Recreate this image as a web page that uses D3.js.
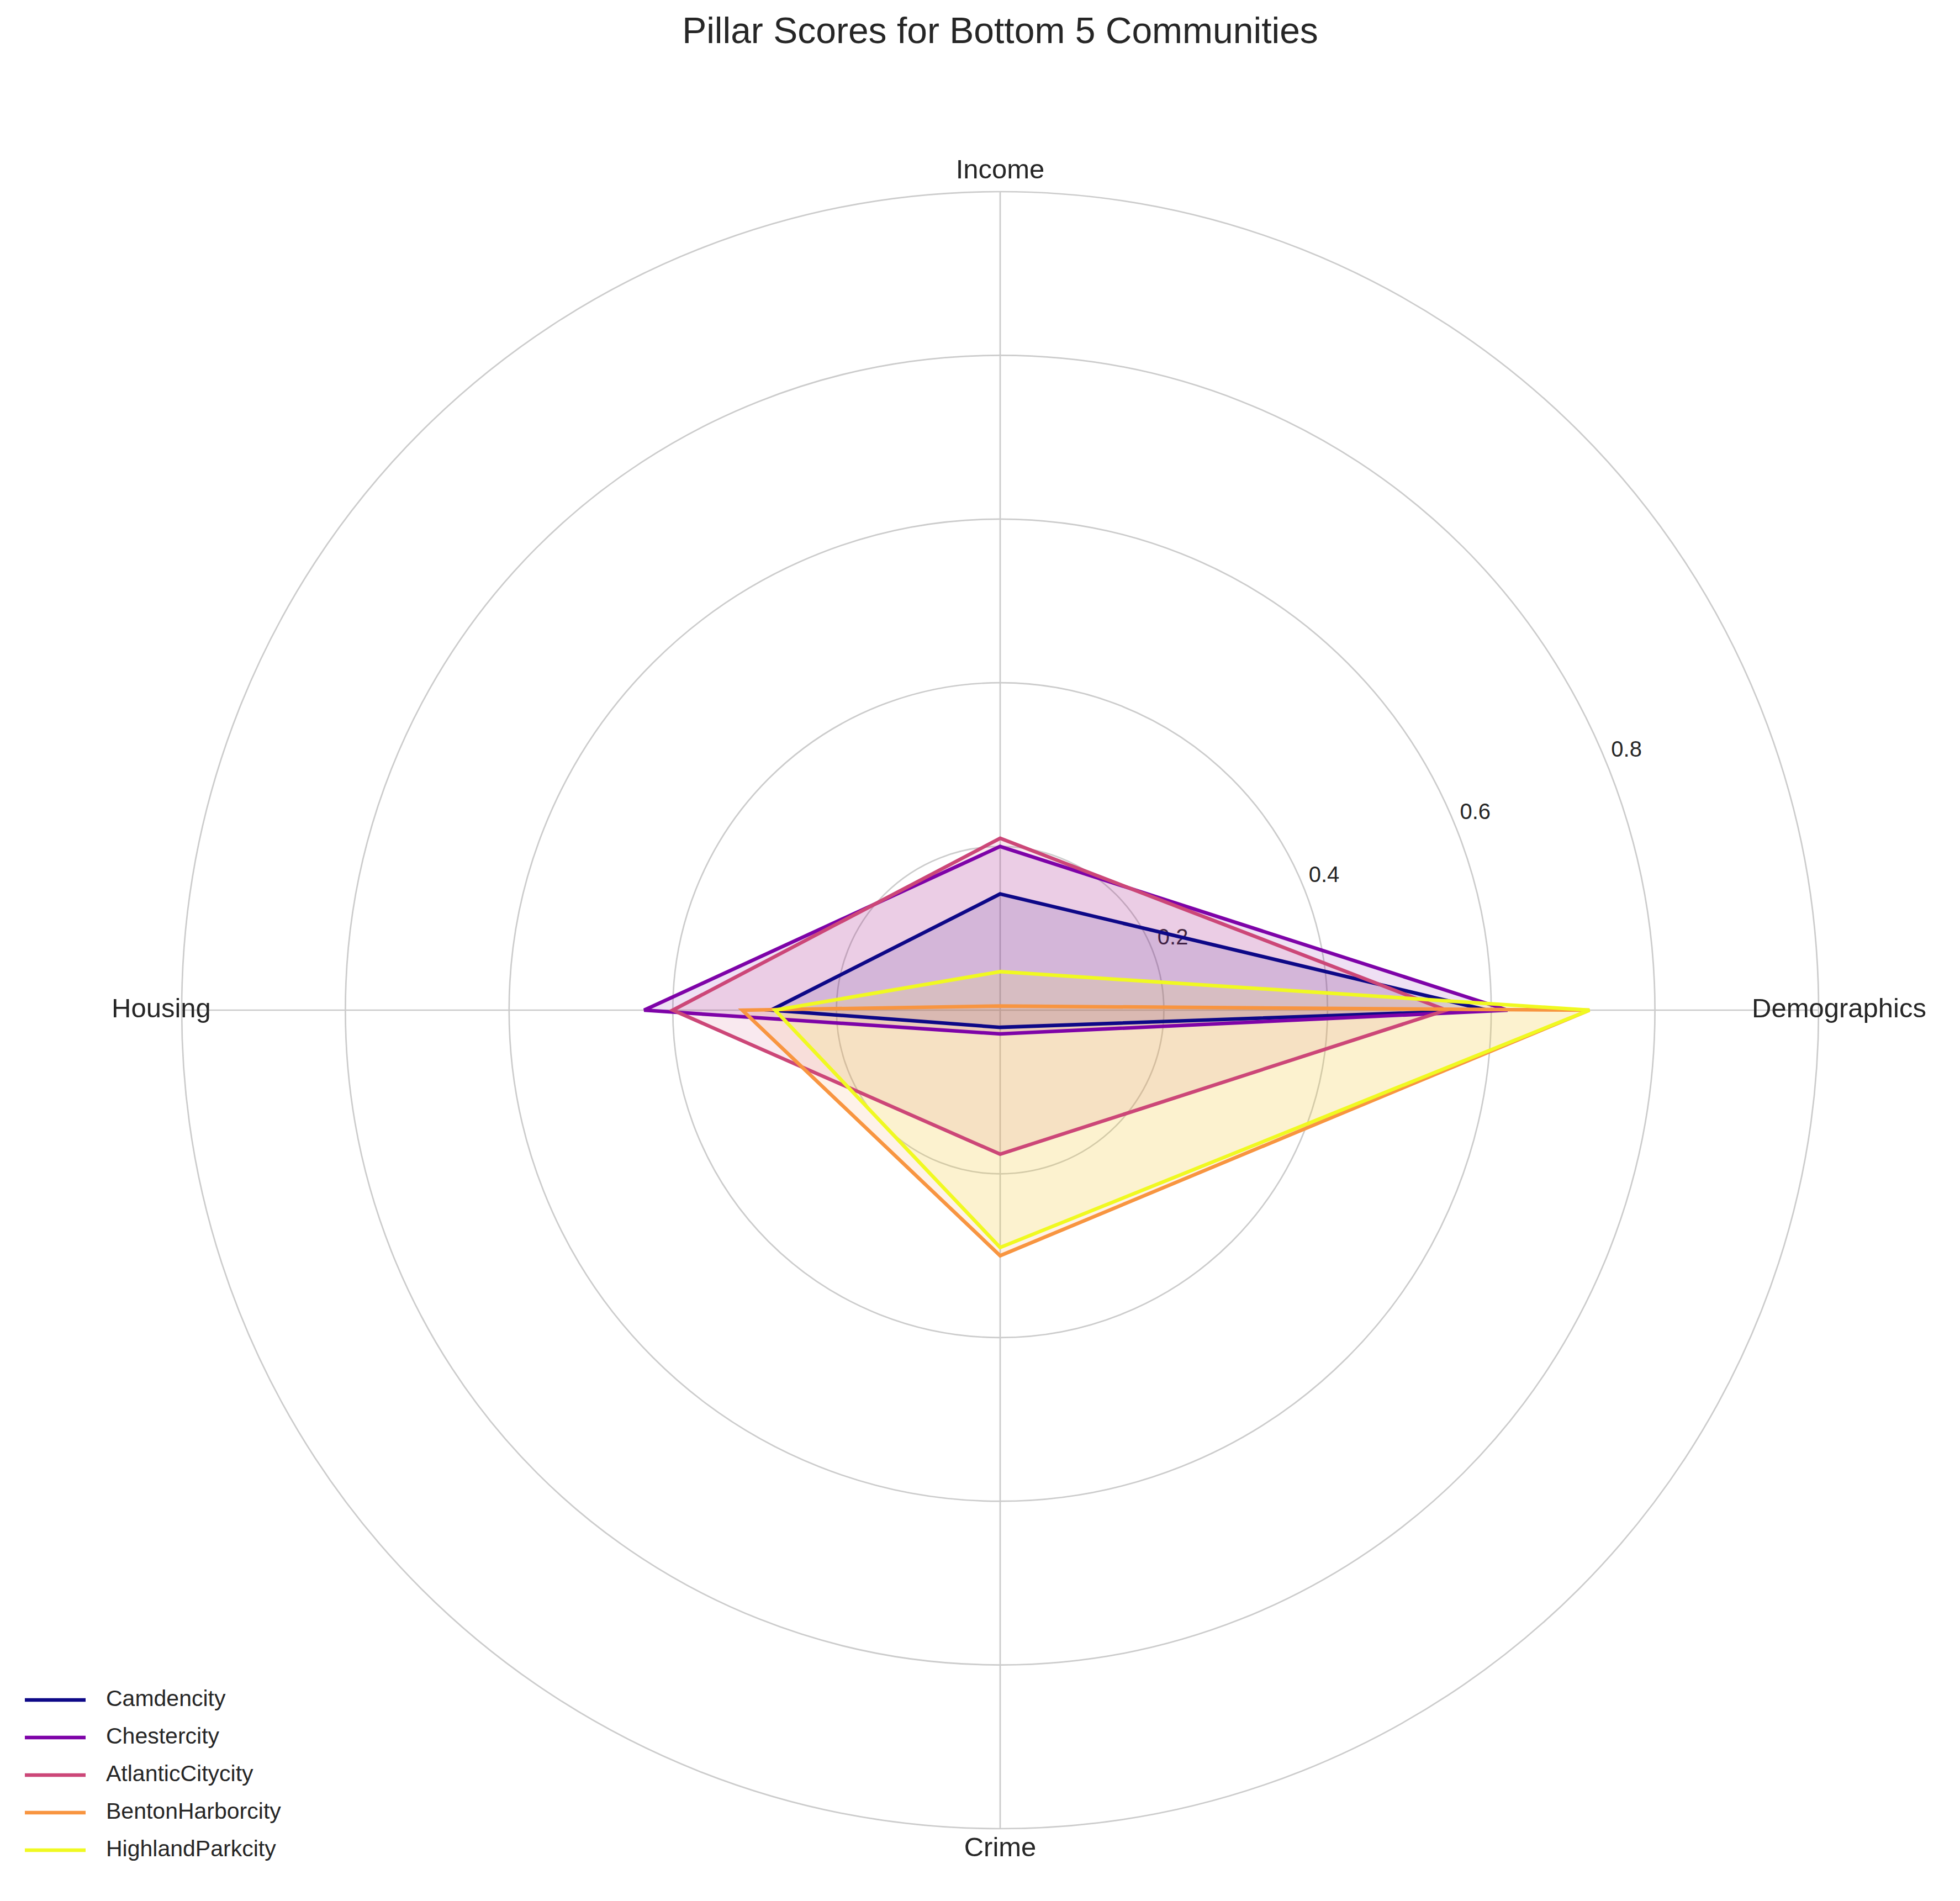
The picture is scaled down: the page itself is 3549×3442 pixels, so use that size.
<!DOCTYPE html>
<html><head><meta charset="utf-8">
<script src="https://cdn.jsdelivr.net/npm/d3@7"></script>
<style>body{margin:0;background:#fff}</style></head>
<body><svg id="c" width="3549" height="3442"></svg>
<script>
const axes = ["Income","Demographics","Crime","Housing"];
const names = ["Camdencity","Chestercity","AtlanticCitycity","BentonHarborcity","HighlandParkcity"];
const colors = ["#0d0887","#7e03a8","#cc4778","#f89540","#f0f921"];
const camden = [0.142,0.595,0.021,0.28];
const chester = [0.20,0.62,0.029,0.435];
const atlantic = [0.21,0.545,0.176,0.40];
const benton = [0.005,0.72,0.30,0.315];
const highland = [0.047,0.72,0.29,0.275];
const series = [camden,chester,atlantic,benton,highland];
const ticks = [0.2,0.4,0.6,0.8];
const rings = [0.2,0.4,0.6,0.8,1.0];

const svg = d3.select("#c");
const cx=1811, cy=1829, R=1482;
const r = d3.scaleLinear().domain([0,1]).range([0,R]);
const ang = d3.scaleLinear().domain([0,axes.length]).range([0,2*Math.PI]);
const g = svg.append("g").attr("transform",`translate(${cx},${cy})`);
const font="'Liberation Sans', Arial, sans-serif";

g.selectAll(".ring").data(rings).enter().append("circle")
 .attr("r",d=>r(d)).attr("fill","none").attr("stroke","#cccccc").attr("stroke-width",2.7);
g.selectAll(".spoke").data(axes).enter().append("line")
 .attr("x1",0).attr("y1",0)
 .attr("x2",(d,i)=>r(1)*Math.sin(ang(i))).attr("y2",(d,i)=>-r(1)*Math.cos(ang(i)))
 .attr("stroke","#cccccc").attr("stroke-width",2.7);

const ta = 67.5*Math.PI/180;
g.selectAll(".tick").data(ticks).enter().append("text")
 .attr("x",d=>(r(d)+42)*Math.sin(ta)).attr("y",d=>-(r(d)+42)*Math.cos(ta))
 .attr("text-anchor","middle").attr("dominant-baseline","middle")
 .attr("font-family",font).attr("font-size",40).attr("fill","#262626").text(d=>d.toFixed(1));

const line = d3.lineRadial().angle((d,i)=>ang(i)).radius(d=>r(d)).curve(d3.curveLinearClosed);
series.forEach((s,k)=>{
  g.append("path").attr("d",line(s)).attr("fill",colors[k]).attr("fill-opacity",0.12).attr("stroke","none");
});
series.forEach((s,k)=>{
  g.append("path").attr("d",line(s)).attr("fill","none").attr("stroke",colors[k]).attr("stroke-width",6.5).attr("stroke-linejoin","miter");
});

g.selectAll(".al").data(axes).enter().append("text")
 .attr("x",(d,i)=>r(1.025)*Math.sin(ang(i))).attr("y",(d,i)=>-r(1.025)*Math.cos(ang(i)))
 .attr("text-anchor","middle").attr("dominant-baseline","middle")
 .attr("font-family",font).attr("font-size",49).attr("fill","#262626").text(d=>d);

svg.append("text").attr("x",cx).attr("y",61).attr("text-anchor","middle").attr("dominant-baseline","middle")
 .attr("font-family",font).attr("font-size",66).attr("fill","#262626").text("Pillar Scores for Bottom 5 Communities");

const lg = svg.append("g");
names.forEach((n,k)=>{
  const y=3078+k*68;
  lg.append("line").attr("x1",45).attr("x2",155).attr("y1",y).attr("y2",y).attr("stroke",colors[k]).attr("stroke-width",6.5);
  lg.append("text").attr("x",192).attr("y",y).attr("dominant-baseline","middle")
   .attr("font-family",font).attr("font-size",41).attr("fill","#262626").text(n);
});
</script></body></html>
